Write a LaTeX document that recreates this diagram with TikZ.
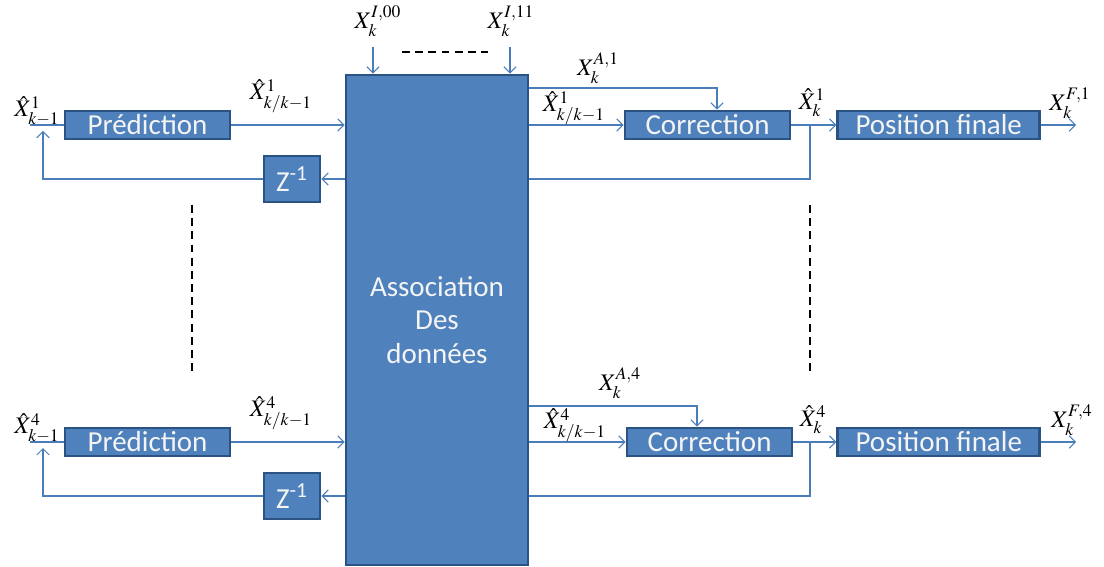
\documentclass[tikz,border=0pt]{standalone}
\usepackage{amsmath}
\usepackage{mathptmx}
\usepackage[no-math]{fontspec}
\setmainfont{Carlito}
\usepackage{xcolor}
\usepackage{tikz}
\usetikzlibrary{positioning,calc,arrows.meta}
\definecolor{boxfill}{HTML}{4F81BD}
\definecolor{boxline}{HTML}{2A5282}
\definecolor{wire}{HTML}{4A7EBB}
\definecolor{boxtext}{HTML}{F4F4F4}

\begin{document}
\begin{tikzpicture}[x=0.02cm, y=-0.02cm, >={Straight Barb[length=3.5pt,width=7pt]}]
        % Style definitions
        \tikzset{
            block/.style={draw=boxline, fill=boxfill, rectangle, line width=1.6pt, inner sep=0pt, minimum height=0.56cm, minimum width=3.3cm, align=center, text=boxtext, font=\fontsize{16.5}{18}\selectfont},
            delay/.style={block, minimum width=1.12cm, minimum height=0.92cm},
            assoc/.style={block, minimum width=3.64cm, minimum height=9.8cm, font=\fontsize{16.5}{19.3}\selectfont},
            lbl/.style={inner sep=0pt, font=\fontsize{13.5}{15}\selectfont},
            wireline/.style={draw=wire, line width=0.6pt},
            dots/.style={draw=black, line width=0.6pt, dash pattern=on 4.5pt off 3pt}
        }
        \useasboundingbox (0,0) rectangle (1104,567);

        % Central block
        \node [assoc] (assoc) at (437,320) {Association\\Des\\données};

        % Track 1
        \node [block] (pred1) at (147.5,125) {Prédiction};
        \node [delay] (z1) at (292,179) {Z\textsuperscript{-1}};
        \node [block] (corr1) at (707.5,125) {Correction};
        \node [block, minimum width=4.04cm, right=0.9cm of corr1] (fin1) {Position finale};

        % Track 4
        \node [block] (pred4) at (147.5,442) {Prédiction};
        \node [delay] (z4) at (292,496) {Z\textsuperscript{-1}};
        \node [block] (corr4) at (709.5,442) {Correction};
        \node [block, minimum width=4.04cm, right=0.86cm of corr4] (fin4) {Position finale};

        % Helper coordinates
        \coordinate (in1) at (30,125);
        \coordinate (ret1) at (43,131);
        \coordinate (tap1) at (810,125);
        \coordinate (obs1) at (717,88);
        \coordinate (out1) at (1076,125);
        \coordinate (in4) at (30,442);
        \coordinate (ret4) at (43,448);
        \coordinate (tap4) at (810,442);
        \coordinate (obs4) at (697,406);
        \coordinate (out4) at (1076,442);
        \coordinate (top00) at (373,47);
        \coordinate (top11) at (510,47);

        % Connections, track 1
        \draw [wireline] (in1) -- (pred1.west);
        \draw [wireline, ->] (pred1.east) -- (assoc.west |- pred1);
        \draw [wireline, ->] (z1.west) -| (ret1);
        \draw [wireline, ->] (assoc.west |- z1) -- (z1.east);
        \draw [wireline, ->] (assoc.east |- corr1) -- (corr1.west);
        \draw [wireline, ->] (assoc.east |- obs1) -| (corr1.north -| obs1);
        \draw [wireline, ->] (corr1.east) -- (fin1.west);
        \draw [wireline] (tap1) |- (assoc.east |- z1);
        \draw [wireline, ->] (fin1.east) -- (out1);

        % Connections, track 4
        \draw [wireline] (in4) -- (pred4.west);
        \draw [wireline, ->] (pred4.east) -- (assoc.west |- pred4);
        \draw [wireline, ->] (z4.west) -| (ret4);
        \draw [wireline, ->] (assoc.west |- z4) -- (z4.east);
        \draw [wireline, ->] (assoc.east |- corr4) -- (corr4.west);
        \draw [wireline, ->] (assoc.east |- obs4) -| (corr4.north -| obs4);
        \draw [wireline, ->] (corr4.east) -- (fin4.west);
        \draw [wireline] (tap4) |- (assoc.east |- z4);
        \draw [wireline, ->] (fin4.east) -- (out4);

        % Inputs on top
        \draw [wireline, ->] (top00) -- (assoc.north -| top00);
        \draw [wireline, ->] (top11) -- (assoc.north -| top11);
        \draw [dots] (402,52) -- (488,52);

        % Skipped tracks
        \draw [dots] (192,205) -- (192,375);
        \draw [dots] (810,205) -- (810,375);

        % Labels
        \node [lbl] at (378,21) {$X_k^{I,00}$};
        \node [lbl] at (511,21) {$X_k^{I,11}$};
        \node [lbl] at (37,111) {$\hat{X}_{k-1}^{1}$};
        \node [lbl] at (281,96) {$\hat{X}_{k/k-1}^{1}$};
        \node [lbl] at (574,108) {$\hat{X}_{k/k-1}^{1}$};
        \node [lbl] at (598,68) {$X_k^{A,1}$};
        \node [lbl] at (812,103) {$\hat{X}_k^{1}$};
        \node [lbl] at (1070,103) {$X_k^{F,1}$};
        \node [lbl] at (37,428) {$\hat{X}_{k-1}^{4}$};
        \node [lbl] at (281,413) {$\hat{X}_{k/k-1}^{4}$};
        \node [lbl] at (575,425) {$\hat{X}_{k/k-1}^{4}$};
        \node [lbl] at (620,383) {$X_k^{A,4}$};
        \node [lbl] at (813,420) {$\hat{X}_k^{4}$};
        \node [lbl] at (1072,420) {$X_k^{F,4}$};
    \end{tikzpicture}
\end{document}
